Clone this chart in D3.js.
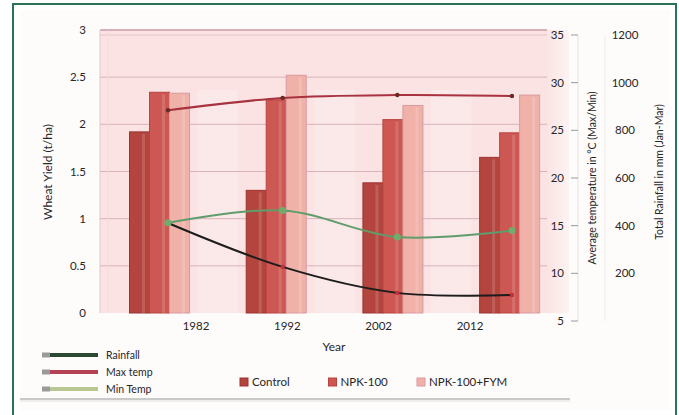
<!DOCTYPE html>
<html>
<head>
<meta charset="utf-8">
<script src="https://cdn.jsdelivr.net/npm/d3@7"></script>
<style>
  html, body { margin: 0; padding: 0; background: #ffffff; }
  svg { display: block; font-family: Lato, "Open Sans", "Liberation Sans", sans-serif; }
</style>
</head>
<body>
<svg id="chart" width="679" height="415"></svg>
<script>
// ---------- data ----------
const years = ["1982", "1992", "2002", "2012"];
const barSeries = ["Control", "NPK-100", "NPK-100+FYM"];
const control = [1.92, 1.30, 1.38, 1.65];
const npk100 = [2.34, 2.26, 2.05, 1.91];
const npkFym = [2.33, 2.52, 2.20, 2.31];
const rainfall = [411, 227, 118, 109];
const maxTemp = [27.1, 28.4, 28.7, 28.6];
const minTemp = [15.3, 16.6, 13.8, 14.5];
const yieldTicks = [0, 0.5, 1, 1.5, 2, 2.5, 3];
const tempTicks = [5, 10, 15, 20, 25, 30, 35];
const rainTicks = [200, 400, 600, 800, 1000, 1200];
const lineSeries = ["Rainfall", "Max temp", "Min Temp"];

// ---------- layout ----------
const svg = d3.select("#chart");
const W = 679, H = 415;
const plot = { left: 100, right: 547, top: 30, bottom: 313 };

const barColors = { "Control": "#b3443e", "NPK-100": "#cd5752", "NPK-100+FYM": "#f0b2a8" };
const barStroke = { "Control": "#9a3532", "NPK-100": "#b9443f", "NPK-100+FYM": "#d99aa2" };
const lineColors = { "Rainfall": "#1c1c1c", "Max temp": "#a8323f", "Min Temp": "#5f9d6c" };
const legendLineColors = { "Rainfall": "#2c4732", "Max temp": "#b34354", "Min Temp": "#b9c792" };

// scales
const x = d3.scaleBand().domain(years).range([plot.left, plot.right])
  .paddingInner(0.486).paddingOuter(0.158).align(0.8);
const xSub = d3.scaleBand().domain(barSeries).range([0, x.bandwidth()]).padding(0);
const xLine = d3.scalePoint().domain(years).range([168, 512]);
const xLabel = d3.scalePoint().domain(years).range([196, 470]);
const yYield = d3.scaleLinear().domain([0, 3]).range([plot.bottom, plot.top]);
const yTemp = d3.scaleLinear().domain([5, 35]).range([321, 35]);
const yRain = d3.scaleLinear().domain([0, 1200]).range([321, 35]);

// ---------- backgrounds ----------
svg.append("rect").attr("x", 0).attr("y", 0).attr("width", W).attr("height", H).attr("fill", "#ffffff");
svg.append("rect").attr("x", 20).attr("y", 10).attr("width", 650).attr("height", 400).attr("fill", "#fefbfb");

const defs = svg.append("defs");
const g1 = defs.append("linearGradient").attr("id", "rightFade").attr("x1", 0).attr("x2", 1).attr("y1", 0).attr("y2", 0);
g1.append("stop").attr("offset", "0%").attr("stop-color", "#fbe3e3");
g1.append("stop").attr("offset", "100%").attr("stop-color", "#fdf3f3");

svg.append("rect").attr("x", plot.left).attr("y", plot.top)
  .attr("width", plot.right - plot.left).attr("height", plot.bottom - plot.top)
  .attr("fill", "#fbe3e3");
svg.append("rect").attr("x", plot.right).attr("y", plot.top)
  .attr("width", 22).attr("height", plot.bottom - plot.top)
  .attr("fill", "url(#rightFade)");

// faint lighter vertical zones between groups
svg.append("g").selectAll("rect").data(years.slice(0, 3)).join("rect")
  .attr("x", d => x(d) + x.bandwidth() + 8)
  .attr("y", plot.top + 60)
  .attr("width", x.step() - x.bandwidth() - 16)
  .attr("height", plot.bottom - plot.top - 60)
  .attr("fill", "#fcebeb").attr("opacity", 0.6);

// ---------- gridlines ----------
svg.append("g").selectAll("line").data(yieldTicks.filter(d => d > 0)).join("line")
  .attr("x1", plot.left).attr("x2", plot.right)
  .attr("y1", d => yYield(d)).attr("y2", d => yYield(d))
  .attr("stroke", d => d === 3 ? "#c99aa6" : "#d6b4b9").attr("stroke-width", d => d === 3 ? 1.5 : 1);
svg.append("line").attr("x1", plot.left).attr("x2", plot.right)
  .attr("y1", yYield(3) + 5).attr("y2", yYield(3) + 5).attr("stroke", "#e4c3c8").attr("stroke-width", 1);
svg.append("line").attr("x1", plot.left).attr("x2", plot.left)
  .attr("y1", plot.top).attr("y2", plot.bottom).attr("stroke", "#e2c7cc");
svg.append("line").attr("x1", plot.left + 8).attr("x2", plot.left + 8)
  .attr("y1", plot.top).attr("y2", plot.bottom).attr("stroke", "#f2dadd");

// ---------- bars ----------
const barData = years.map((yr, i) => ({
  year: yr,
  values: [
    { s: "Control", v: control[i] },
    { s: "NPK-100", v: npk100[i] },
    { s: "NPK-100+FYM", v: npkFym[i] }
  ]
}));
const groups = svg.append("g").selectAll("g").data(barData).join("g")
  .attr("transform", d => `translate(${x(d.year)},0)`);
groups.selectAll("rect").data(d => d.values).join("rect")
  .attr("x", d => xSub(d.s))
  .attr("y", d => yYield(d.v))
  .attr("width", xSub.bandwidth())
  .attr("height", d => yYield(0) - yYield(d.v))
  .attr("fill", d => barColors[d.s])
  .attr("stroke", d => barStroke[d.s]).attr("stroke-width", 1);
groups.selectAll("line.hl").data(d => d.values).join("line").attr("class", "hl")
  .attr("x1", d => xSub(d.s) + xSub.bandwidth() * 0.7)
  .attr("x2", d => xSub(d.s) + xSub.bandwidth() * 0.7)
  .attr("y1", d => yYield(d.v) + 2).attr("y2", yYield(0))
  .attr("stroke", "#ffffff").attr("stroke-opacity", 0.15).attr("stroke-width", 3);

// ---------- lines ----------
const lineDefs = [
  { name: "Rainfall", vals: rainfall, y: yRain, marker: "#c0303a", r: 2.2 },
  { name: "Max temp", vals: maxTemp, y: yTemp, marker: "#6b2a20", r: 2.2 },
  { name: "Min Temp", vals: minTemp, y: yTemp, marker: "#6fae6a", r: 3.5 }
];
const lineGen = d3.line().curve(d3.curveCatmullRom.alpha(0.5));
lineDefs.forEach(ld => {
  const pts = years.map((yr, i) => [xLine(yr), ld.y(ld.vals[i])]);
  svg.append("path").attr("d", lineGen(pts)).attr("fill", "none")
    .attr("stroke", lineColors[ld.name]).attr("stroke-width", 2);
  svg.append("g").selectAll("circle").data(pts).join("circle")
    .attr("cx", d => d[0]).attr("cy", d => d[1]).attr("r", ld.r)
    .attr("fill", ld.marker);
});

// ---------- axes text ----------
const txt = "#262626";
svg.append("g").selectAll("text").data(yieldTicks).join("text")
  .attr("x", 86).attr("y", d => yYield(d)).attr("dy", "0.35em")
  .attr("text-anchor", "end").attr("font-size", 11.5).attr("fill", txt)
  .text(d => d);
svg.append("text").attr("transform", `translate(48,172) rotate(-90)`)
  .attr("text-anchor", "middle").attr("dy", "0.35em").attr("font-size", 12).attr("fill", txt)
  .text("Wheat Yield (t/ha)");

// temperature axis
svg.append("line").attr("x1", 578).attr("x2", 578).attr("y1", yTemp(35)).attr("y2", yTemp(5))
  .attr("stroke", "#e6e0e0");
svg.append("g").selectAll("line").data(tempTicks).join("line")
  .attr("x1", 571).attr("x2", 578).attr("y1", d => yTemp(d)).attr("y2", d => yTemp(d))
  .attr("stroke", "#9a9a9a");
svg.append("g").selectAll("text").data(tempTicks).join("text")
  .attr("x", 564).attr("y", d => yTemp(d)).attr("dy", "0.35em")
  .attr("text-anchor", "end").attr("font-size", 11.5).attr("fill", txt)
  .text(d => d);
svg.append("text").attr("transform", `translate(592,178) rotate(-90)`)
  .attr("text-anchor", "middle").attr("dy", "0.35em").attr("font-size", 10.5).attr("fill", txt)
  .text("Average temperature in °C (Max/Min)");

// rainfall axis
svg.append("line").attr("x1", 605).attr("x2", 605).attr("y1", yRain(1200)).attr("y2", yRain(0))
  .attr("stroke", "#eeeaea");
svg.append("g").selectAll("text").data(rainTicks).join("text")
  .attr("x", 625).attr("y", d => yRain(d)).attr("dy", "0.35em")
  .attr("text-anchor", "middle").attr("font-size", 11.5).attr("fill", txt)
  .text(d => d);
svg.append("text").attr("transform", `translate(659,172) rotate(-90)`)
  .attr("text-anchor", "middle").attr("dy", "0.35em").attr("font-size", 10.5).attr("fill", txt)
  .text("Total Rainfall in mm (Jan-Mar)");

// x labels
svg.append("g").selectAll("text").data(years).join("text")
  .attr("x", d => xLabel(d)).attr("y", 326).attr("dy", "0.35em")
  .attr("text-anchor", "middle").attr("font-size", 11.5).attr("fill", txt)
  .text(d => d);
svg.append("text").attr("x", 334).attr("y", 347).attr("dy", "0.35em")
  .attr("text-anchor", "middle").attr("font-size", 12).attr("fill", txt).text("Year");

// ---------- legends ----------
const ll = svg.append("g").selectAll("g").data(lineSeries).join("g")
  .attr("transform", (d, i) => `translate(0,${355 + i * 17})`);
ll.append("line").attr("x1", 42).attr("x2", 98).attr("y1", 0).attr("y2", 0)
  .attr("stroke", d => legendLineColors[d]).attr("stroke-width", 4);
ll.append("rect").attr("x", 42).attr("y", -2.5).attr("width", 8).attr("height", 5).attr("fill", "#9a9a9a");
ll.append("text").attr("x", 106).attr("y", 0).attr("dy", "0.35em")
  .attr("font-size", 10.5).attr("fill", txt).text(d => d);

const blX = d3.scalePoint().domain(barSeries).range([240, 417]);
const bl = svg.append("g").selectAll("g").data(barSeries).join("g")
  .attr("transform", d => `translate(${blX(d)},382)`);
bl.append("rect").attr("x", 0).attr("y", -4).attr("width", 8).attr("height", 8)
  .attr("fill", d => barColors[d]).attr("stroke", d => barStroke[d]);
bl.append("text").attr("x", 12).attr("y", 0).attr("dy", "0.35em")
  .attr("font-size", 11.5).attr("fill", txt).text(d => d);

svg.append("line").attr("x1", 20).attr("x2", 570).attr("y1", 399).attr("y2", 399)
  .attr("stroke", "#c9c9c9").attr("stroke-width", 2);
svg.append("line").attr("x1", 20).attr("x2", 570).attr("y1", 401).attr("y2", 401)
  .attr("stroke", "#eeeeee").attr("stroke-width", 2);

// ---------- frame ----------
svg.append("rect").attr("x", 13).attr("y", 4).attr("width", 663).attr("height", 430)
  .attr("fill", "none").attr("stroke", "#2b7356").attr("stroke-width", 2);
</script>
</body>
</html>
